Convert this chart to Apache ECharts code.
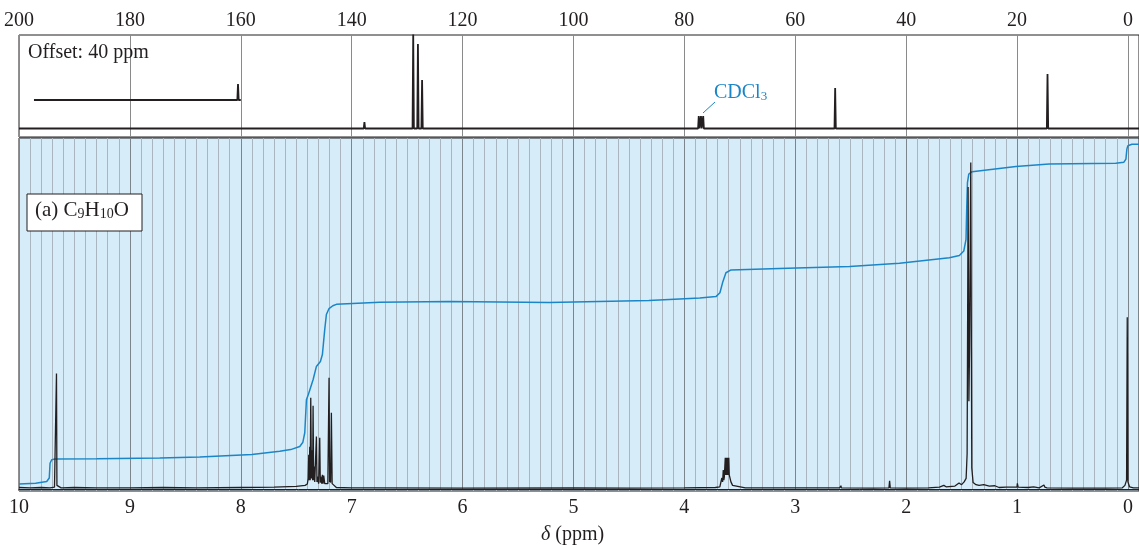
<!DOCTYPE html>
<html><head><meta charset="utf-8">
<script src="https://cdn.jsdelivr.net/npm/echarts@6/dist/echarts.min.js"></script>
<style>html,body{margin:0;padding:0;background:#fff}#c{width:1139px;height:545px}</style>
</head><body><div id="c"></div>
<script>
// ---------- 13C spectrum (top panel) ----------
const c13Ticks = [200, 180, 160, 140, 120, 100, 80, 60, 40, 20, 0];
const c13Peaks = [ // [ppm, height above baseline]
  [137.7, 6.5], [128.9, 94], [128.05, 84.5], [127.3, 48.5],
  [77.4, 12.5], [77.0, 12.5], [76.6, 12.5],
  [52.8, 40.5], [14.5, 54.5]
];
const c13OffsetPeaks = [[200.5, 16]];      // true ppm, drawn shifted by OFFSET
const c13Span = [200, -2];
const c13OffsetSpan = [237.3, 200];         // true ppm
const OFFSET = 40;
const C13_BASE = 8.5, C13_OFFSET_BASE = 37;

// ---------- 1H spectrum (bottom panel) ----------
const h1Ticks = [10, 9, 8, 7, 6, 5, 4, 3, 2, 1, 0];
const h1Spectrum = [
  [10.0, 0.4], [9.9, 0.3], [9.8, 0.4], [9.72, 0.3], [9.68, 0.5], [9.666, 1.0], [9.662, 32.9], [9.658, 1.0],
  [9.645, 0.6], [9.62, 0.3], [9.5, 0.4], [9.3, 0.3], [9.0, 0.3], [8.7, 0.4], [8.4, 0.3], [8.0, 0.4],
  [7.7, 0.5], [7.5, 0.7], [7.42, 1.0], [7.40, 1.4],
  [7.392, 3], [7.387, 9.7], [7.383, 2.5], [7.378, 12], [7.374, 2.5], [7.369, 26], [7.363, 3],
  [7.357, 11], [7.352, 2.5], [7.348, 23.7], [7.343, 2.5], [7.339, 6.4], [7.333, 2], [7.327, 2.5],
  [7.322, 1.8], [7.318, 14.9], [7.313, 2], [7.309, 3.5], [7.298, 1.5], [7.288, 14.6], [7.283, 1.8],
  [7.279, 3.5], [7.27, 1.5], [7.264, 4], [7.258, 1.5], [7.252, 3.8], [7.243, 1.5], [7.234, 2],
  [7.215, 1.5], [7.204, 31.7], [7.199, 2], [7.195, 3.5], [7.19, 1.8], [7.183, 21.7], [7.176, 1.5],
  [7.168, 1.1], [7.138, 0.4], [7.0, 0.3], [6.8, 0.3], [6.0, 0.2], [5.0, 0.3], [4.5, 0.2], [4.0, 0.3],
  [3.72, 0.4], [3.68, 0.6], [3.662, 3.1], [3.655, 2], [3.649, 5.4], [3.644, 2.5], [3.640, 3.2],
  [3.634, 3], [3.631, 8.9], [3.627, 4], [3.623, 8.9], [3.619, 4], [3.615, 8.9], [3.611, 4],
  [3.607, 8.9], [3.603, 4], [3.599, 8.9], [3.595, 4], [3.586, 4.5], [3.580, 2], [3.574, 2.5],
  [3.565, 1], [3.555, 0.5], [3.45, 0.3], [3.0, 0.3], [2.6, 0.3], [2.588, 0.9], [2.584, 0.3],
  [2.3, 0.2], [2.155, 0.3], [2.149, 2.3], [2.143, 0.3], [2.0, 0.2], [1.8, 0.3], [1.70, 0.5],
  [1.66, 1.0], [1.64, 0.6], [1.56, 0.8], [1.523, 1.7], [1.50, 1.2], [1.477, 2.0], [1.459, 3.0],
  [1.450, 10], [1.441, 86], [1.434, 25], [1.428, 40], [1.417, 93], [1.408, 6], [1.396, 1.8],
  [1.37, 1.2], [1.342, 1.0], [1.3, 1.2], [1.25, 0.8], [1.2, 0.9], [1.162, 0.4], [1.1, 0.5],
  [1.0, 0.5], [0.997, 1.6], [0.99, 0.5], [0.9, 0.4], [0.85, 0.6], [0.80, 0.3], [0.757, 1.1],
  [0.749, 0.5], [0.742, 1.0], [0.73, 0.3], [0.5, 0.2], [0.2, 0.2], [0.05, 0.3], [0.027, 1.0],
  [0.012, 2.5], [0.006, 48.9], [0.0, 2.0], [-0.015, 0.6], [-0.05, 0.3], [-0.1, 0.3]
];
const h1Integral = [
  [10.0, 1.4], [9.85, 1.6], [9.75, 2.1], [9.727, 3.1], [9.72, 7.3], [9.705, 8.3], [9.676, 8.5],
  [9.3, 8.6], [8.73, 8.8], [8.37, 9.1], [7.9, 9.8], [7.649, 10.7], [7.55, 11.2], [7.468, 12.1],
  [7.44, 13.3], [7.423, 16.0], [7.408, 25.4], [7.39, 27.0], [7.378, 27.4], [7.348, 31.1],
  [7.318, 34.9], [7.282, 36.3], [7.264, 38.3], [7.243, 45.4], [7.228, 49.7], [7.204, 51.4],
  [7.17, 52.2], [7.138, 52.6], [6.748, 53.2], [6.12, 53.4], [5.22, 53.1], [4.32, 53.7],
  [3.86, 54.4], [3.715, 54.8], [3.679, 55.9], [3.655, 58.8], [3.625, 61.6], [3.579, 62.4],
  [3.144, 62.8], [2.51, 63.4], [2.06, 64.3], [1.61, 65.9], [1.52, 66.5], [1.48, 67.8],
  [1.46, 71.1], [1.453, 80.7], [1.447, 87.3], [1.435, 89.7], [1.405, 90.4], [1.01, 91.9],
  [0.71, 92.6], [0.11, 92.8], [0.036, 93.1], [0.018, 94.0], [0.009, 96.9], [0.0, 97.8],
  [-0.036, 98.2], [-0.1, 98.2]
];

// ---------- build stick traces for 13C ----------
function stickTrace(span, peaks, base, shift) {
  const pts = [[span[0] - shift, base]];
  peaks.slice().sort((a, b) => b[0] - a[0]).forEach(p => {
    const x = p[0] - shift;
    pts.push([x + 0.12, base], [x, base + p[1]], [x - 0.12, base]);
  });
  pts.push([span[1] - shift, base]);
  return pts;
}
const c13Main = stickTrace(c13Span, c13Peaks, C13_BASE, 0);
const c13Off = stickTrace(c13OffsetSpan, c13OffsetPeaks, C13_OFFSET_BASE, OFFSET);

const INK = '#231f20', BLUE = '#1a86c8';
const SERIF = '"Liberation Serif", "DejaVu Serif", serif';
const near = (v, step) => Math.abs(v / step - Math.round(v / step)) < 1e-6;
const T = 'rgba(0,0,0,0)';
const minor = '#a9b5bf', major = '#7d858c';
const chart = echarts.init(document.getElementById('c'));
chart.setOption({
  animation: false,
  grid: [
    { left: 19, right: 0, top: 35, height: 102, show: true, backgroundColor: '#fff', borderColor: INK, borderWidth: 1,
      containLabel: false, outerBoundsMode: 'none' },
    { left: 19, right: 0, top: 138, bottom: 54, show: true, backgroundColor: '#d6ecf8', borderColor: INK, borderWidth: 1,
      containLabel: false, outerBoundsMode: 'none' }
  ],
  xAxis: [
    { type: 'value', gridIndex: 0, position: 'top', inverse: true, min: -2, max: 200, interval: 2,
      axisLine: { show: false }, axisTick: { show: false },
      axisLabel: { margin: 4, fontFamily: SERIF, fontSize: 20, color: INK,
        formatter: v => (near(v, 20) && c13Ticks.indexOf(Math.round(v)) >= 0) ? String(Math.round(v)) : '' },
      splitLine: { show: true, lineStyle: { width: 1, color: [T, '#8a8a8a', T, T, T, T, T, T, T, T] } } },
    { type: 'value', gridIndex: 1, position: 'bottom', inverse: true, min: -0.1, max: 10, interval: 0.1,
      axisLine: { show: true, lineStyle: { color: INK, width: 1 } }, axisTick: { show: false },
      axisLabel: { margin: 7, fontFamily: SERIF, fontSize: 20, color: INK,
        formatter: v => (near(v, 1) && h1Ticks.indexOf(Math.round(v)) >= 0) ? String(Math.round(v)) : '' },
      splitLine: { show: true, lineStyle: { width: 1, color: [minor, major, minor, minor, minor, minor, minor, minor, minor, minor] } } }
  ],
  yAxis: [
    { type: 'value', gridIndex: 0, min: 0, max: 102, show: false },
    { type: 'value', gridIndex: 1, min: -0.6, max: 100, show: false }
  ],
  series: [
    { type: 'line', xAxisIndex: 0, yAxisIndex: 0, data: c13Main, showSymbol: false, symbol: 'none',
      lineStyle: { color: INK, width: 1.8 }, z: 3 },
    { type: 'line', xAxisIndex: 0, yAxisIndex: 0, data: c13Off, showSymbol: false, symbol: 'none',
      lineStyle: { color: INK, width: 1.8 }, z: 3 },
    { type: 'line', xAxisIndex: 1, yAxisIndex: 1, data: h1Integral, showSymbol: false, symbol: 'none',
      lineStyle: { color: BLUE, width: 1.5 }, z: 3 },
    { type: 'line', xAxisIndex: 1, yAxisIndex: 1, data: h1Spectrum, showSymbol: false, symbol: 'none',
      lineStyle: { color: INK, width: 1.3 }, z: 4 }
  ],
  graphic: [
    { type: 'text', left: 28, top: 43, z: 10,
      style: { text: 'Offset: 40 ppm', font: '20px ' + SERIF, fill: INK } },
    { type: 'line', z: 10, shape: { x1: 703, y1: 113, x2: 715, y2: 102 }, style: { stroke: BLUE, lineWidth: 1 } },
    { type: 'text', left: 714, top: 83, z: 10,
      style: { text: 'CDCl{s|3}', font: '20px ' + SERIF, fill: BLUE,
        rich: { s: { fontSize: 13, fontFamily: SERIF, fill: BLUE, verticalAlign: 'bottom', lineHeight: 10 } } } },
    { type: 'rect', z: 10, shape: { x: 27, y: 194, width: 115, height: 37 },
      style: { fill: '#fff', stroke: INK, lineWidth: 1 } },
    { type: 'text', left: 35, top: 200, z: 11,
      style: { text: '(a) C{s|9}H{s|10}O', font: '21px ' + SERIF, fill: INK,
        rich: { s: { fontSize: 14, fontFamily: SERIF, fill: INK, verticalAlign: 'bottom', lineHeight: 10 } } } },
    { type: 'text', left: 541, top: 525, z: 10,
      style: { text: '{i|δ} (ppm)', font: '20px ' + SERIF, fill: INK,
        rich: { i: { fontStyle: 'italic', fontSize: 20, fontFamily: SERIF, fill: INK } } } }
  ]
});
</script></body></html>
